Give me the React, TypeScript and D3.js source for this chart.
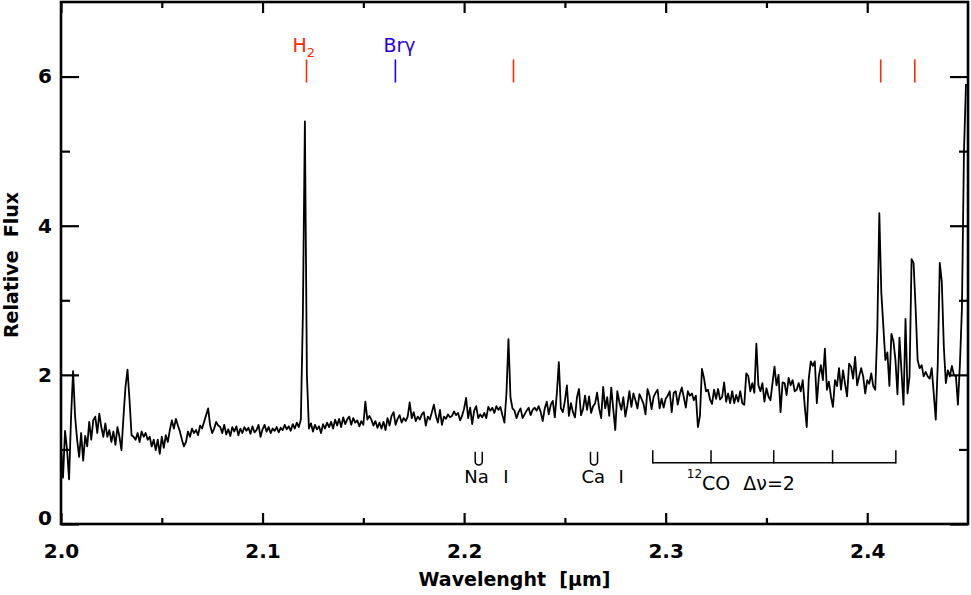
import React, { Component } from "react";
import * as d3 from "d3";

// flux, one sample every 0.001 um
const waveStart = 2.0;
const waveStep = 0.001;

// 2.000 - 2.078
const fluxA = [
  1.05, 0.62, 1.25, 1.0, 0.6, 1.44, 2.05, 1.44, 1.13, 0.9,
  1.22, 0.85, 1.18, 1.04, 1.37, 1.13, 1.39, 1.44, 1.22, 1.48,
  1.3, 1.17, 1.35, 1.17, 1.26, 1.1, 1.24, 1.06, 1.3, 1.17,
  0.99, 1.44, 1.84, 2.07, 1.66, 1.19, 1.17, 1.13, 1.22, 1.1,
  1.24, 1.17, 1.22, 1.13, 1.17, 1.04, 1.13, 0.99, 1.13, 0.94,
  1.17, 1.02, 1.19, 1.1, 1.26, 1.39, 1.28, 1.41, 1.32, 1.24,
  1.13, 1.04, 1.1, 1.24, 1.17, 1.28, 1.22, 1.26, 1.19, 1.32,
  1.28, 1.37, 1.46, 1.55, 1.32, 1.22, 1.28, 1.37, 1.32,
];
// 2.079 - 2.153
const fluxB = [
  1.3, 1.22, 1.33, 1.2, 1.27, 1.18, 1.3, 1.24, 1.31, 1.19,
  1.28, 1.22, 1.3, 1.25, 1.29, 1.21, 1.31, 1.23, 1.26, 1.33,
  1.17, 1.27, 1.33, 1.24, 1.3, 1.22, 1.28, 1.25, 1.3, 1.23,
  1.29, 1.26, 1.33, 1.27, 1.31, 1.25, 1.34, 1.28, 1.36, 1.3,
  1.4, 2.8, 5.4, 2.0, 1.28, 1.35, 1.24, 1.33, 1.27, 1.31,
  1.22, 1.34, 1.28, 1.36, 1.3, 1.37, 1.28, 1.4, 1.32, 1.41,
  1.3, 1.43, 1.34, 1.4, 1.44, 1.33, 1.42, 1.36, 1.39, 1.31,
  1.38, 1.33, 1.64, 1.4, 1.45,
];
// 2.154 - 2.227
const fluxC = [
  1.4, 1.32, 1.38, 1.29, 1.36, 1.28, 1.37, 1.26, 1.42, 1.32,
  1.45, 1.5, 1.33, 1.41, 1.46, 1.36, 1.42, 1.38, 1.44, 1.63,
  1.42, 1.5, 1.38, 1.44, 1.4, 1.47, 1.5, 1.32, 1.44, 1.4,
  1.5, 1.6, 1.45, 1.36, 1.53, 1.33, 1.44, 1.41, 1.47, 1.43,
  1.45, 1.51, 1.46, 1.49, 1.39, 1.45, 1.55, 1.69, 1.42, 1.56,
  1.34, 1.52, 1.58, 1.42, 1.47, 1.43, 1.49, 1.42, 1.57, 1.52,
  1.56, 1.49, 1.58, 1.53, 1.57, 1.46, 1.36, 1.75, 2.48, 1.7,
  1.55, 1.52, 1.42, 1.5,
];
// 2.228 - 2.302
const fluxD = [
  1.55, 1.42, 1.47, 1.52, 1.56, 1.46, 1.53, 1.56, 1.52, 1.58,
  1.5, 1.38, 1.55, 1.64, 1.47, 1.6, 1.65, 1.43, 1.75, 2.17,
  1.55, 1.5, 1.65, 1.86, 1.45, 1.62, 1.5, 1.43, 1.7, 1.81,
  1.46, 1.54, 1.72, 1.53, 1.71, 1.49, 1.58, 1.62, 1.76, 1.55,
  1.42, 1.84, 1.55, 1.7, 1.45, 1.83, 1.54, 1.26, 1.78, 1.64,
  1.53, 1.7, 1.44, 1.59, 1.78, 1.57, 1.75, 1.66, 1.55, 1.74,
  1.68, 1.61, 1.47, 1.81, 1.72, 1.54, 1.7, 1.76, 1.8, 1.55,
  1.68, 1.56, 1.68, 1.72, 1.78,
];
// 2.303 - 2.376
const fluxE = [
  1.5, 1.76, 1.78, 1.6, 1.74, 1.83, 1.7, 1.56, 1.78, 1.72,
  1.75, 1.66, 1.72, 1.3, 1.45, 2.08, 1.96, 1.78, 1.8, 1.67,
  1.61, 1.8, 1.68, 1.81, 1.67, 1.7, 1.9, 1.64, 1.75, 1.62,
  1.78, 1.62, 1.73, 1.64, 1.78, 1.62, 1.6, 2.02, 1.98, 1.78,
  1.89, 1.76, 2.42, 1.86, 1.78, 1.89, 1.64, 1.82, 1.71, 1.66,
  1.89, 2.11, 1.86, 2.0, 1.5, 1.9, 1.89, 1.73, 1.96, 1.86,
  1.93, 1.78, 1.8, 1.89, 1.78, 1.93, 1.58, 1.3, 1.95, 2.18,
  2.12, 2.18, 1.62, 1.98,
];
// 2.377 - 2.449
const fluxF = [
  2.13, 1.93, 2.35, 1.8, 1.91, 1.71, 1.57, 1.93, 1.85, 2.09,
  1.8, 2.06, 1.88, 1.71, 2.15, 2.11, 1.95, 2.24, 1.86, 1.98,
  2.09, 1.98, 1.75, 1.93, 1.88, 2.02, 1.85, 1.8, 2.6, 4.17,
  3.1, 2.65, 2.2, 2.3, 1.85, 2.55, 2.45, 2.2, 1.74, 2.5,
  2.05, 1.6, 2.75, 1.75, 1.98, 3.55, 3.5, 2.9, 2.2, 2.09,
  2.13, 1.98, 2.04, 1.98, 1.95, 2.09, 1.75, 1.4, 2.15, 3.5,
  3.25, 2.38, 1.89, 2.06, 1.98, 2.12, 2.0, 1.98, 1.6, 2.15,
  2.9, 5.0, 5.9,
];

const xMajorTicks = [2.0, 2.1, 2.2, 2.3, 2.4];
const xMinorTicks = [2.05, 2.15, 2.25, 2.35];
const yMajorTicks = [0, 2, 4, 6];
const yMinorTicks = [1, 3, 5];

// line identifications (um)
const h2Lines = [2.1218, 2.2245, 2.4067, 2.4236];
const brGammaLine = [2.1659];
const naLines = [2.2055, 2.209];
const caLines = [2.2627, 2.2662];
const coBandheads = [2.2936, 2.3225, 2.3536, 2.3828, 2.4142];

const RED = "#ff2a00";
const BLUE = "#2a00e0";
const FONT = "'DejaVu Sans', sans-serif";

class App extends Component {
  svgRef = React.createRef<SVGSVGElement>();

  componentDidMount() {
    this.draw();
  }

  draw() {
    const W = 971, H = 595;
    const margin = { top: 2, right: 3, bottom: 71, left: 61 };
    const w = W - margin.left - margin.right;
    const h = H - margin.top - margin.bottom;

    const svg = d3.select(this.svgRef.current);
    svg.selectAll("*").remove();

    const g = svg.append("g").attr("transform", `translate(${margin.left}, ${margin.top})`);

    const x = d3.scaleLinear().domain([2.0, 2.45]).range([0, w]);
    const y = d3.scaleLinear().domain([0, 7]).range([h, 0]);

    const flux = [...fluxA, ...fluxB, ...fluxC, ...fluxD, ...fluxE, ...fluxF];
    const spectrum = flux.map((f, i) => ({ wave: waveStart + i * waveStep, flux: f }));

    svg.append("defs").append("clipPath").attr("id", "plotclip")
      .append("rect").attr("x", 0).attr("y", 0).attr("width", w).attr("height", h);

    g.append("path")
      .datum(spectrum)
      .attr("clip-path", "url(#plotclip)")
      .attr("fill", "none")
      .attr("stroke", "#000")
      .attr("stroke-width", 1.8)
      .attr("stroke-linejoin", "round")
      .attr("d", d3.line<any>().x(d => x(d.wave)).y(d => y(d.flux)));

    // axes, ticks pointing inward like IDL
    const styleAxis = (sel: any) => {
      sel.select(".domain").remove();
      sel.selectAll("line").attr("stroke", "#000").attr("stroke-width", 2.2);
      sel.selectAll("text")
        .attr("fill", "#000")
        .style("font-family", FONT)
        .style("font-size", "20px")
        .style("font-weight", "bold");
    };

    g.append("g").attr("transform", `translate(0, ${h})`)
      .call(d3.axisBottom(x).tickValues(xMajorTicks).tickSize(-11).tickPadding(20).tickFormat(d3.format(".1f")))
      .call(styleAxis);
    g.append("g").attr("transform", `translate(0, ${h})`)
      .call(d3.axisBottom(x).tickValues(xMinorTicks).tickSize(-6).tickFormat(() => ""))
      .call(styleAxis);
    g.append("g")
      .call(d3.axisTop(x).tickValues(xMajorTicks).tickSize(-11).tickFormat(() => ""))
      .call(styleAxis);
    g.append("g")
      .call(d3.axisTop(x).tickValues(xMinorTicks).tickSize(-6).tickFormat(() => ""))
      .call(styleAxis);

    const yAxis = g.append("g")
      .call(d3.axisLeft(y).tickValues(yMajorTicks).tickSize(-18).tickPadding(9).tickFormat(d3.format("d")))
      .call(styleAxis);
    yAxis.selectAll(".tick").filter((d: any) => d === 0).select("text").attr("dy", "0.0em");
    g.append("g")
      .call(d3.axisLeft(y).tickValues(yMinorTicks).tickSize(-9).tickFormat(() => ""))
      .call(styleAxis);
    g.append("g").attr("transform", `translate(${w}, 0)`)
      .call(d3.axisRight(y).tickValues(yMajorTicks).tickSize(-18).tickFormat(() => ""))
      .call(styleAxis);
    g.append("g").attr("transform", `translate(${w}, 0)`)
      .call(d3.axisRight(y).tickValues(yMinorTicks).tickSize(-9).tickFormat(() => ""))
      .call(styleAxis);

    g.append("rect")
      .attr("width", w).attr("height", h)
      .attr("fill", "none").attr("stroke", "#000").attr("stroke-width", 2.6);

    // axis titles
    svg.append("text")
      .attr("x", margin.left + x(2.225))
      .attr("y", 586)
      .attr("text-anchor", "middle")
      .style("font-family", FONT).style("font-size", "19px").style("font-weight", "bold")
      .style("white-space", "pre")
      .text("Wavelenght  [\u03bcm]");

    svg.append("text")
      .attr("transform", `translate(18, ${margin.top + y(3.5) + 2}) rotate(-90)`)
      .attr("text-anchor", "middle")
      .style("font-family", FONT).style("font-size", "19px").style("font-weight", "bold")
      .style("white-space", "pre")
      .text("Relative  Flux");

    // emission line markers
    const markTop = y(6.23), markBottom = y(5.92);
    g.selectAll(".h2mark").data(h2Lines).join("line")
      .attr("class", "h2mark")
      .attr("x1", d => x(d)).attr("x2", d => x(d))
      .attr("y1", markTop).attr("y2", markBottom)
      .attr("stroke", RED).attr("stroke-width", 1.6);
    g.selectAll(".brmark").data(brGammaLine).join("line")
      .attr("class", "brmark")
      .attr("x1", d => x(d)).attr("x2", d => x(d))
      .attr("y1", markTop).attr("y2", markBottom)
      .attr("stroke", BLUE).attr("stroke-width", 1.6);

    const h2Label = g.append("text")
      .attr("x", x(h2Lines[0]) - 14)
      .attr("y", y(6.33))
      .attr("fill", RED)
      .style("font-family", FONT).style("font-size", "19px");
    h2Label.append("tspan").text("H");
    h2Label.append("tspan").attr("dy", 5).style("font-size", "13px").text("2");

    g.append("text")
      .attr("x", x(brGammaLine[0]) - 12)
      .attr("y", y(6.33))
      .attr("fill", BLUE)
      .style("font-family", FONT).style("font-size", "19px")
      .text("Br\u03b3");

    // absorption features, doublets drawn as a small U
    const absTop = y(0.97), absBottom = y(0.79), absText = y(0.55);
    const doublet = (lines: number[]) => {
      const x0 = x(lines[0]), x1 = x(lines[1]), r = (x1 - x0) / 2;
      return `M${x0},${absTop}V${absBottom - r}A${r},${r} 0 0 0 ${x1},${absBottom - r}V${absTop}`;
    };
    [naLines, caLines].forEach(lines => {
      g.append("path").attr("d", doublet(lines))
        .attr("fill", "none").attr("stroke", "#000").attr("stroke-width", 1.5);
    });

    const naText = g.append("text").attr("y", absText)
      .style("font-family", FONT).style("font-size", "18px");
    naText.append("tspan").attr("x", x(naLines[0]) - 11).text("Na");
    naText.append("tspan").attr("x", x(naLines[0]) + 28).text("I");

    const caText = g.append("text").attr("y", absText)
      .style("font-family", FONT).style("font-size", "18px");
    caText.append("tspan").attr("x", x(caLines[0]) - 9).text("Ca");
    caText.append("tspan").attr("x", x(caLines[0]) + 28).text("I");

    // CO bandhead bracket
    const coLine = y(0.82), coTick = y(0.99);
    g.append("line")
      .attr("x1", x(coBandheads[0])).attr("x2", x(coBandheads[coBandheads.length - 1]))
      .attr("y1", coLine).attr("y2", coLine)
      .attr("stroke", "#000").attr("stroke-width", 1.5);
    g.selectAll(".cotick").data(coBandheads).join("line")
      .attr("class", "cotick")
      .attr("x1", d => x(d)).attr("x2", d => x(d))
      .attr("y1", coLine + 0.75).attr("y2", coTick)
      .attr("stroke", "#000").attr("stroke-width", 1.5);

    const coText = g.append("text")
      .attr("x", x(coBandheads[0]) + 34)
      .attr("y", y(0.46))
      .style("font-family", FONT).style("font-size", "19px");
    coText.append("tspan").attr("dy", -12).style("font-size", "12px").text("12");
    coText.append("tspan").attr("dy", 12).text("CO");
    coText.append("tspan").attr("dx", 13).text("\u0394\u03bd=2");
  }

  render() {
    return (
      <svg
        ref={this.svgRef}
        width={971}
        height={595}
        style={{ position: "absolute", left: 0, top: 0, background: "#fff" }}
      />
    );
  }
}

export default App;
